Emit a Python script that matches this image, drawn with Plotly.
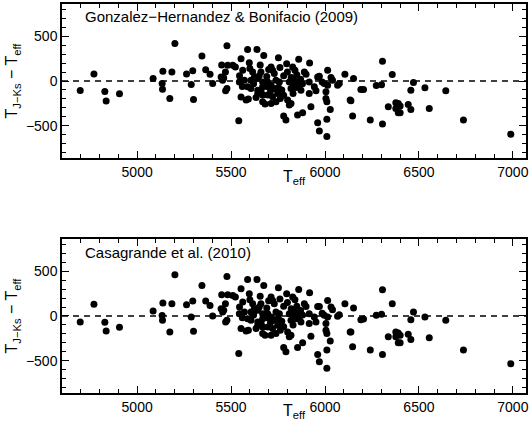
import plotly.graph_objects as go

# Effective temperatures (shared stars)
teff = [4697, 4770, 4828, 4835, 4906, 5085, 5137, 5133, 5135, 5174,
        5185, 5201, 5263, 5288, 5296, 5300, 5345, 5365, 5388, 5402,
        5450, 5478, 5470, 5461, 5455, 5482, 5509, 5523, 5478, 5471,
        5553, 5562, 5541, 5553, 5588, 5638, 5597, 5615, 5659, 5674,
        5752, 5860, 5796, 5828, 5840, 5713, 5721, 5730, 5890, 5899,
        6014, 6106, 5961, 5970, 6032, 6040, 6152, 5624, 5642, 5606,
        5668, 5695, 5571, 5544, 5757, 5739, 5810, 5837, 5854, 5916,
        5996, 6014, 6067, 6076, 5588, 5606, 5642, 5668, 5713, 5730,
        5752, 5819, 5845, 5863, 5872, 5943, 5952, 5642, 5668, 5695,
        5633, 5748, 5762, 5721, 5580, 5592, 5668, 5681, 5713, 5739,
        5801, 5810, 5819, 5916, 6005, 6005, 6010, 5925, 6028, 6134,
        5854, 5881, 5780, 5792, 5961, 6010, 6147, 5970, 6010, 5918,
        6306, 6358, 6273, 6301, 6471, 6191, 6205, 6457, 6532, 6643,
        6138, 6337, 6377, 6390, 6400, 6377, 6390, 6400, 6443, 6457,
        6555, 6241, 6306, 6737, 6989, 5447, 5600, 5650, 5690, 5700,
        5780, 5800, 5820, 5830, 5850, 5870, 5690, 5710, 5770, 5620,
        5660, 5780, 5830, 5560, 5880, 5620, 5760, 5655, 5545, 5985]

# T(J-Ks) - Teff, Gonzalez-Hernandez & Bonifacio (2009)
dt_gh = [-106, 79, -117, -224, -143, 27, 109, -28, -91, -195,
         102, 420, 79, -39, 116, -206, 278, 127, 76, -28,
         179, 394, 102, 33, 10, 175, 175, 157, -84, -110,
         250, 120, -444, -178, 353, 353, 205, 102, 102, 286,
         261, 242, 194, 157, 120, 157, 120, 83, 102, 76,
         120, 76, 46, 53, 39, 9, 27, 46, 27, 9,
         -10, -10, 9, -10, -10, 9, -10, 9, -10, -10,
         -28, -47, -47, -28, -65, -84, -102, -65, -47, -84,
         -72, -84, -72, -47, -102, -65, -110, -139, -157, -157,
         -183, -139, -195, -176, -213, -202, -231, -257, -250, -231,
         -213, -269, -250, -139, -120, -194, -231, -287, -317, -213,
         -380, -354, -391, -435, -465, -428, -391, -557, -620, 200,
         220, 72, -50, -43, -17, -95, -95, -102, -76, -109,
         -220, -287, -243, -250, -280, -306, -354, -354, -261, -317,
         -306, -435, -479, -435, -594, 45, 140, 60, 50, 130,
         60, 100, 40, -30, 70, 20, -60, -110, -100, -30,
         -120, -160, -140, -60, -30, 10, 150, 180, 60, -10]

# T(J-Ks) - Teff, Casagrande et al. (2010)
dt_cas = [-67, 130, -70, -167, -126, 56, 144, 4, -48, -178,
          137, 459, 126, -11, 166, -170, 340, 166, 118, 0,
          237, 440, 137, 63, 44, 237, 229, 211, -48, -67,
          303, 155, -418, -141, 407, 407, 248, 137, 137, 340,
          315, 296, 248, 211, 181, 211, 174, 137, 137, 107,
          174, 137, 107, 107, 100, 70, 89, 81, 63, 44,
          26, 26, 44, 26, 26, 44, 26, 44, 26, 26,
          7, -11, -4, 15, -30, -48, -67, -30, -11, -48,
          -30, -48, -30, -11, -67, -11, -67, -104, -122, -122,
          -141, -104, -159, -141, -167, -159, -196, -215, -215, -196,
          -178, -233, -215, -85, -85, -159, -196, -226, -278, -178,
          -352, -300, -352, -400, -429, -381, -344, -511, -585, 259,
          292, 137, 7, 18, 44, -41, -33, -41, -11, -48,
          -178, -233, -178, -189, -215, -233, -300, -300, -204, -263,
          -244, -381, -429, -381, -533, 80, 180, 100, 90, 170,
          110, 150, 80, 10, 110, 60, -20, -70, -60, 10,
          -80, -120, -100, -20, 10, 40, 190, 220, 100, 30]

panel_titles = ["Gonzalez\u2212Hernandez & Bonifacio (2009)", "Casagrande et al. (2010)"]
x_title = "T<sub>eff</sub>"
y_title = "T<sub>J\u2212Ks</sub> \u2212 T<sub>eff</sub>"

FONT = "Liberation Sans, Arial, Helvetica, sans-serif"

fig = go.Figure()
fig.add_trace(go.Scatter(x=teff, y=dt_gh, mode="markers", xaxis="x", yaxis="y",
                         marker=dict(color="black", size=7, line=dict(width=0)),
                         showlegend=False))
fig.add_trace(go.Scatter(x=teff, y=dt_cas, mode="markers", xaxis="x2", yaxis="y2",
                         marker=dict(color="black", size=7, line=dict(width=0)),
                         showlegend=False))

xax = dict(range=[4600, 7070], dtick=500, tick0=5000, ticks="inside", ticklen=7,
           tickwidth=1.3, tickcolor="black", showline=True, linecolor="black",
           linewidth=1.5, mirror="allticks", showgrid=False, zeroline=False,
           automargin=False,
           minor=dict(ticks="inside", dtick=100, tick0=5000, ticklen=4,
                      tickwidth=1.1, tickcolor="black", showgrid=False),
           tickfont=dict(size=14, color="black", family=FONT))
yax = dict(range=[-860, 860], dtick=500, tick0=0, ticks="inside", ticklen=7,
           tickwidth=1.3, tickcolor="black", showline=True, linecolor="black",
           linewidth=1.5, mirror="allticks", showgrid=False, zeroline=False,
           automargin=False,
           minor=dict(ticks="inside", dtick=100, tick0=0, ticklen=4,
                      tickwidth=1.1, tickcolor="black", showgrid=False),
           tickfont=dict(size=14, color="black", family=FONT),
           title=dict(text=y_title, font=dict(size=16, color="black", family=FONT), standoff=4))

fig.update_layout(
    width=531, height=430,
    margin=dict(l=62, r=5, t=4, b=37),
    paper_bgcolor="white", plot_bgcolor="white",
    font=dict(family=FONT, color="black"),
    xaxis=dict(xax, domain=[0, 1], anchor="y"),
    yaxis=dict(yax, domain=[0.604, 1], anchor="x"),
    xaxis2=dict(xax, domain=[0, 1], anchor="y2"),
    yaxis2=dict(yax, domain=[0, 0.396], anchor="x2"),
)

for xr, yr in [("x domain", "y"), ("x2 domain", "y2")]:
    fig.add_shape(type="line", xref=xr, yref=yr, x0=0, x1=1, y0=0, y1=0,
                  line=dict(color="black", width=1.3, dash="6px,5px"), layer="below")

for txt, ypos in zip(panel_titles, [0.967, 0.361]):
    fig.add_annotation(text=txt, xref="paper", yref="paper", x=0.045, y=ypos,
                       xanchor="left", yanchor="middle", showarrow=False,
                       font=dict(size=15, color="black", family=FONT))

for ypos in [0.553, -0.047]:
    fig.add_annotation(text=x_title, xref="paper", yref="paper", x=0.5, y=ypos,
                       xanchor="center", yanchor="middle", showarrow=False,
                       font=dict(size=16, color="black", family=FONT))

fig.write_html("out.html", config={"displayModeBar": False},
               post_script="document.body.style.margin='0';")
